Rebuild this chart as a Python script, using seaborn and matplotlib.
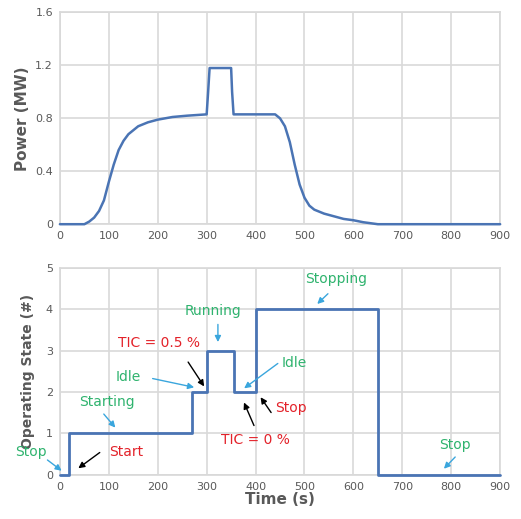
import matplotlib
matplotlib.use("Agg")
import matplotlib.pyplot as plt
import seaborn as sns
import pandas as pd

sns.set_theme(style="whitegrid")
plt.rcParams['font.family'] = ['DejaVu Sans']

power_t = [0, 50, 60, 70, 80, 90, 100, 110, 120, 130, 140, 150, 160, 180, 200, 230, 260, 300, 303, 306, 350, 352, 355, 400, 440, 450, 460, 470, 480, 490, 500, 510, 520, 540, 560, 580, 600, 620, 640, 650, 900]
power_mw = [0, 0, 0.02, 0.05, 0.1, 0.18, 0.32, 0.45, 0.56, 0.63, 0.68, 0.71, 0.74, 0.77, 0.79, 0.81, 0.82, 0.83, 1.0, 1.18, 1.18, 1.0, 0.83, 0.83, 0.83, 0.8, 0.74, 0.62, 0.45, 0.3, 0.2, 0.14, 0.11, 0.08, 0.06, 0.04, 0.03, 0.015, 0.005, 0, 0]
state_t = [0, 18, 18, 270, 270, 300, 300, 355, 355, 400, 400, 650, 650, 900]
state_v = [0, 0, 1, 1, 2, 2, 3, 3, 2, 2, 4, 4, 0, 0]

line_c = "#4a74b4"
green = "#2fb36e"
red = "#e3222a"
cyan = "#3aa6dd"
grid_c = "#d9d9d9"
tick_c = "#595959"

fig = plt.figure(figsize=(5.21, 5.19), dpi=100)
ax1 = fig.add_axes([0.115, 0.568, 0.845, 0.408])
ax2 = fig.add_axes([0.115, 0.085, 0.845, 0.399])

sns.lineplot(x=power_t, y=power_mw, ax=ax1, color=line_c, linewidth=1.8, estimator=None, sort=False)
sns.lineplot(x=state_t, y=state_v, ax=ax2, color=line_c, linewidth=2, estimator=None, sort=False)
for ax in (ax1, ax2):
    for ln in ax.lines:
        ln.set_clip_on(False)
        ln.set_zorder(5)

for ax in (ax1, ax2):
    ax.set_xlim(0, 900)
    ax.set_xticks(range(0, 901, 100))
    ax.grid(True, color=grid_c, linewidth=1.2)
    for s in ax.spines.values():
        s.set_color(grid_c)
    ax.tick_params(labelsize=8, colors=tick_c, length=0, pad=5)
    ax.set_facecolor("white")

ax1.set_ylim(0, 1.6)
ax1.set_yticks([0, 0.4, 0.8, 1.2, 1.6])
ax1.set_yticklabels(["0", "0.4", "0.8", "1.2", "1.6"])
ax1.set_ylabel("Power (MW)", fontsize=11, fontweight="bold", color=tick_c)
ax2.set_ylim(0, 5)
ax2.set_yticks(range(0, 6))
ax2.set_ylabel("Operating State (#)", fontsize=10, fontweight="bold", color=tick_c, labelpad=8)
ax2.set_xlabel("Time (s)", fontsize=11, fontweight="bold", color=tick_c, labelpad=0)

def ann(text, color, txy, xy_from, xy_to, acolor):
    ax2.text(txy[0], txy[1], text, color=color, fontsize=10, ha="center", va="center", zorder=6)
    ax2.annotate("", xy=xy_to, xytext=xy_from,
                 arrowprops=dict(arrowstyle="-|>", color=acolor, lw=1, mutation_scale=9),
                 annotation_clip=False, zorder=6)

ann("Stop", green, (-60, 0.56), (-30, 0.4), (8, 0.06), cyan)
ann("Start", red, (135, 0.56), (86, 0.58), (33, 0.12), "black")
ann("Starting", green, (96, 1.76), (86, 1.52), (117, 1.09), cyan)
ann("Idle", green, (139, 2.37), (184, 2.34), (280, 2.1), cyan)
ann("TIC = 0.5 %", red, (203, 3.19), (259, 2.78), (298, 2.08), "black")
ann("Running", green, (313, 3.96), (323, 3.7), (323, 3.14), cyan)
ann("Idle", green, (480, 2.7), (450, 2.73), (372, 2.05), cyan)
ann("Stop", red, (472, 1.62), (435, 1.45), (407, 1.93), "black")
ann("TIC = 0 %", red, (399, 0.85), (399, 1.13), (374, 1.81), "black")
ann("Stopping", green, (565, 4.73), (552, 4.42), (522, 4.08), cyan)
ann("Stop", green, (808, 0.72), (812, 0.48), (781, 0.1), cyan)

fig.savefig("out.png", dpi=100, facecolor="white")
